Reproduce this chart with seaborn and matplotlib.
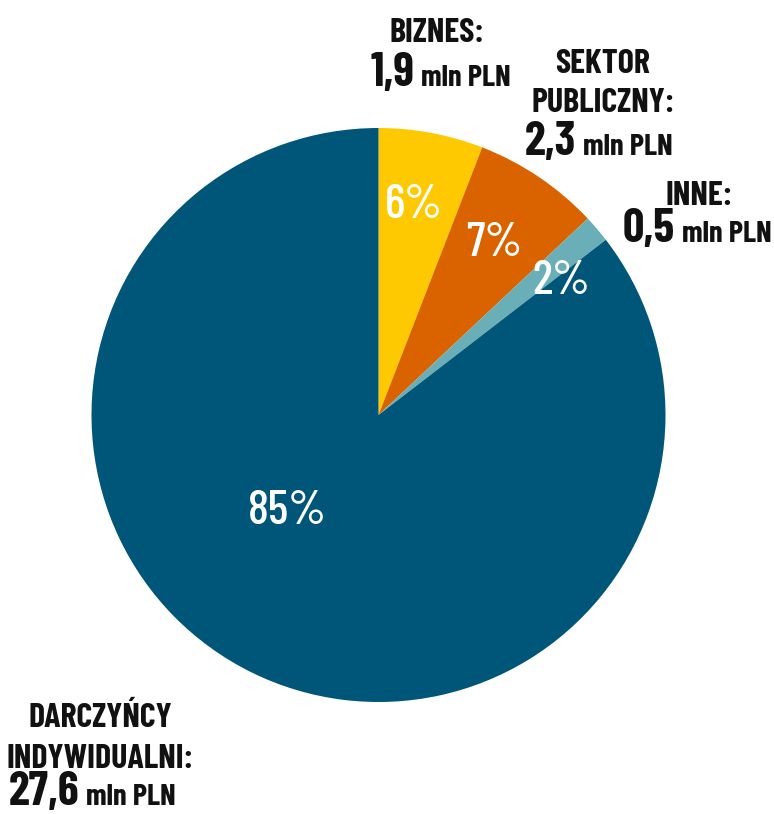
import numpy as np
import matplotlib
matplotlib.use("Agg")
import matplotlib.pyplot as plt
import seaborn as sns

sns.set_theme(style="white")
plt.rcParams['font.family'] = ['Barlow Condensed', 'DejaVu Sans']

# data (mln PLN), clockwise from the top
headers = ['BIZNES:', 'SEKTOR\nPUBLICZNY:', 'INNE:', 'DARCZYŃCY\nINDYWIDUALNI:']
amounts = [1.9, 2.3, 0.5, 27.6]
amount_labels = ['1,9', '2,3', '0,5', '27,6']
unit = 'mln PLN'
colors = ['#fec900', '#da6300', '#6aafb7', '#005678']

W, H = 774, 814
fig = plt.figure(figsize=(W / 100, H / 100), dpi=100)
cx, cy, R = 378.5, 415, 287
ax = fig.add_axes([(cx - R) / W, (H - cy - R) / H, 2 * R / W, 2 * R / H])

wedges, _, autotexts = ax.pie(amounts, colors=colors, startangle=90, counterclock=False,
                              autopct='%.0f%%', radius=1,
                              wedgeprops=dict(linewidth=0))
ax.set_xlim(-1, 1)
ax.set_ylim(-1, 1)
ax.axis('off')

# percent label placement: radial fraction and angular shift (deg)
pct_r = [0.74, 0.72, 0.79, 0.463]
pct_shift = [1.1, 0.0, -4.2, -17.0]
for w, t, r, s in zip(wedges, autotexts, pct_r, pct_shift):
    ang = np.deg2rad((w.theta1 + w.theta2) / 2 + s)
    t.set_position((r * np.cos(ang), r * np.sin(ang)))
    t.set_color('white')
    t.set_fontsize(35)
    t.set_fontweight('medium')
    t.set_ha('center')
    t.set_va('center')

# outer labels (pixel layout)
header_pos = [(437, [42]), (603, [73, 112]), (699, [205]), (100, [727, 768])]
value_pos = [(418, 86), (580, 155), (679, 242), (83, 805)]


def fx(x):
    return x / W


def fy(y):
    return 1 - y / H


for hdr, (hx, ys), lab, (vx, vy) in zip(headers, header_pos, amount_labels, value_pos):
    for line, y in zip(hdr.split('\n'), ys):
        fig.text(fx(hx), fy(y), line, ha='center', va='baseline',
                 fontsize=24.5, fontweight='bold', color='#111111')
    fig.text(fx(vx - 4), fy(vy), lab, ha='right', va='baseline',
             fontsize=34, fontweight='bold', color='#111111')
    fig.text(fx(vx + 3), fy(vy), unit, ha='left', va='baseline',
             fontsize=22, fontweight='bold', color='#111111')

plt.savefig('out.png', dpi=100, facecolor='white')
